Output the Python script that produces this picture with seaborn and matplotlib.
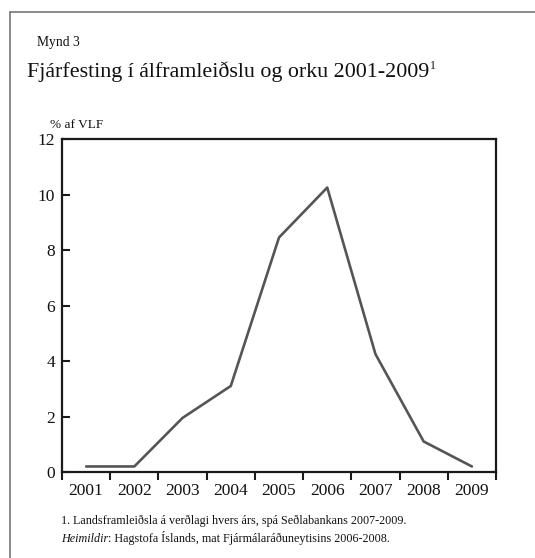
import numpy as np
import pandas as pd
import matplotlib
matplotlib.use('Agg')
import matplotlib.pyplot as plt
from matplotlib.lines import Line2D
import seaborn as sns

# data
years = ['2001', '2002', '2003', '2004', '2005', '2006', '2007', '2008', '2009']
share_of_gdp = [0.2, 0.2, 1.95, 3.1, 8.45, 10.25, 4.25, 1.1, 0.2]
y_ticks = [0, 2, 4, 6, 8, 10, 12]

title = 'Fjárfesting í álframleiðslu og orku 2001-2009'
note_1 = '1. Landsframleiðsla á verðlagi hvers árs, spá Seðlabankans 2007-2009.'
note_src = ': Hagstofa Íslands, mat Fjármálaráðuneytisins 2006-2008.'

sns.set_theme(style='white')
plt.rcParams['font.family'] = ['Liberation Serif', 'DejaVu Serif']
plt.rcParams['text.color'] = '#111111'

df = pd.DataFrame({'year': years, 'value': share_of_gdp})

fig = plt.figure(figsize=(5.35, 5.58), dpi=100)
ax = fig.add_axes([0.1159, 0.1541, 0.8112, 0.5968])

sns.lineplot(data=df, x='year', y='value', ax=ax, color='#555555', linewidth=1.9)

ax.set_xlim(-0.5, len(years) - 0.5)
ax.set_ylim(0, 12)
ax.set_xlabel('')
ax.set_ylabel('')

# years sit between the tick marks
ax.set_xticks(np.arange(len(years) + 1) - 0.5)
ax.set_xticklabels([])
ax.set_xticks(np.arange(len(years)), minor=True)
ax.set_xticklabels(years, minor=True, fontsize=12.5, color='#111111')
ax.tick_params(axis='x', which='major', direction='out', length=6, width=1.5,
               color='#1a1a1a', bottom=True)
ax.tick_params(axis='x', which='minor', length=0, pad=8)

ax.set_yticks(y_ticks)
ax.set_yticklabels([str(v) for v in y_ticks], fontsize=12.5, color='#111111')
ax.tick_params(axis='y', direction='in', length=6, width=1.5, color='#1a1a1a',
               left=True, pad=5)

for s in ax.spines.values():
    s.set_color('#1a1a1a')
    s.set_linewidth(1.6)
    s.set_visible(True)

# outer frame (only top and left are visible in the crop)
fig.add_artist(Line2D([10 / 535, 1], [1 - 12 / 558, 1 - 12 / 558],
                      transform=fig.transFigure, color='#777777', lw=1.2))
fig.add_artist(Line2D([10 / 535, 10 / 535], [0, 1 - 12 / 558],
                      transform=fig.transFigure, color='#777777', lw=1.2))

fig.text(37 / 535, 1 - 46 / 558, 'Mynd 3', fontsize=9.8, va='baseline')
t = fig.text(27 / 535, 1 - 77 / 558, title, fontsize=15.8, va='baseline')
fig.canvas.draw()
bb = t.get_window_extent()
fig.text((bb.x1 + 1) / fig.bbox.width, 1 - 69 / 558, '1', fontsize=8.5, va='baseline')
fig.text(50 / 535, 1 - 128 / 558, '% af VLF', fontsize=9.5, va='baseline')

fig.text(61 / 535, 1 - 524 / 558, note_1, fontsize=8.7, va='baseline')
h = fig.text(61 / 535, 1 - 542 / 558, 'Heimildir', fontsize=8.7, va='baseline',
             style='italic')
fig.canvas.draw()
hb = h.get_window_extent()
fig.text(hb.x1 / fig.bbox.width, 1 - 542 / 558, note_src, fontsize=8.7, va='baseline')

fig.savefig('out.png', dpi=100)
